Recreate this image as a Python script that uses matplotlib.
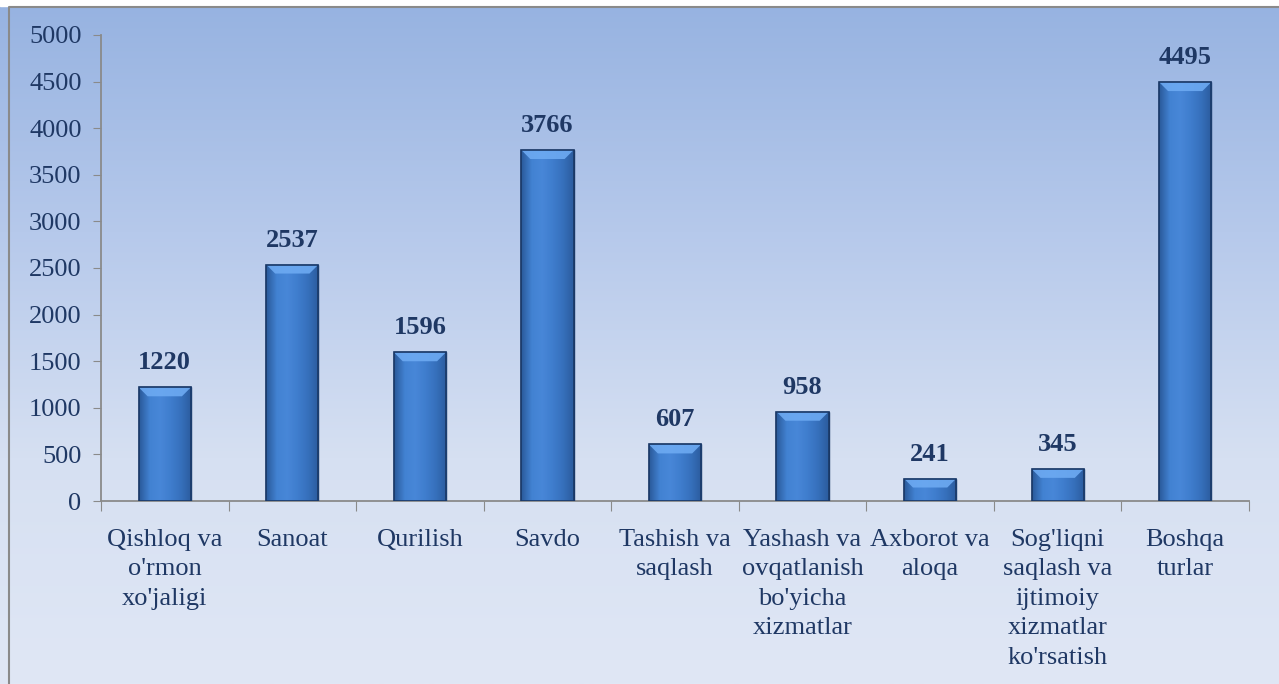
import numpy as np
import matplotlib
matplotlib.use("Agg")
import matplotlib.pyplot as plt
from matplotlib.patches import Polygon, Rectangle
from matplotlib.colors import LinearSegmentedColormap

# ma'lumotlar
categories = ["Qishloq va\no'rmon\nxo'jaligi", "Sanoat", "Qurilish", "Savdo",
              "Tashish va\nsaqlash", "Yashash va\novqatlanish\nbo'yicha\nxizmatlar",
              "Axborot va\naloqa", "Sog'liqni\nsaqlash va\nijtimoiy\nxizmatlar\nko'rsatish",
              "Boshqa\nturlar"]
values = [1220, 2537, 1596, 3766, 607, 958, 241, 345, 4495]
yticks = [0, 500, 1000, 1500, 2000, 2500, 3000, 3500, 4000, 4500, 5000]

navy = "#1F3864"
plt.rcParams["font.family"] = ["Liberation Serif", "DejaVu Serif"]

W, H = 1279, 684
fig = plt.figure(figsize=(W / 100, H / 100), dpi=100)

# fon
bg = fig.add_axes([0, 0, 1, 1], zorder=-5)
bg.set_xlim(0, W)
bg.set_ylim(H, 0)
bg.axis("off")
bgmap = LinearSegmentedColormap.from_list("bg", ["#97B3E1", "#B6C9EB", "#D6E0F2", "#E0E7F5"])
grad = np.linspace(0, 1, 256).reshape(-1, 1)
bg.imshow(grad, cmap=bgmap, extent=[0, W, H, 6], aspect="auto")
bg.add_patch(Rectangle((0, 0), W, 6, color="white"))
bg.plot([8.5, 8.5, W], [H, 6.5, 6.5], color="#8A8A8A", lw=1.5)

ax = fig.add_axes([101 / W, 1 - 501 / H, (1249 - 101) / W, (501 - 35) / H])
ax.patch.set_alpha(0)
x = np.arange(len(values))
bars = ax.bar(x, values, width=0.41, color="#3C78C8", edgecolor="#1A3866", linewidth=1.0, zorder=3)
ax.set_xlim(-0.5, len(values) - 0.5)
ax.set_ylim(0, 5000)

# gradient va qirralar
barmap = LinearSegmentedColormap.from_list("bar", ["#2A5A9A", "#4282D2", "#4887D8", "#3F7DCD", "#3670BC", "#2B5C9E"])
hgrad = np.linspace(0, 1, 64).reshape(1, -1)
ppy = 5000 / 466.0
ppx = 9 / 1148.0
for b in bars:
    x0, y0 = b.get_x(), b.get_y()
    w, h = b.get_width(), b.get_height()
    im = ax.imshow(hgrad, cmap=barmap, extent=[x0, x0 + w, y0, y0 + h], aspect="auto", zorder=3)
    im.set_clip_path(b)
    bev = min(9 * ppy, h * 0.4)
    dx = 9 * ppx
    ax.add_patch(Polygon([[x0, y0 + h], [x0 + w, y0 + h], [x0 + w - dx, y0 + h - bev], [x0 + dx, y0 + h - bev]],
                         closed=True, facecolor="#6DAAF2", edgecolor="none", alpha=0.9, zorder=4))
    ax.add_patch(Rectangle((x0, y0), w, h, facecolor="none", edgecolor="#1A3866", lw=1.2, zorder=5))
    ax.text(x0 + w / 2, y0 + h + 13 * ppy, str(int(h)), ha="center", va="bottom",
            fontsize=19, fontweight="bold", color=navy, zorder=6)

ax.set_xticks(np.arange(-0.5, len(values), 1))
ax.set_xticklabels([])
ax.set_xticks(x, minor=True)
ax.set_xticklabels(categories, minor=True, fontsize=19, color=navy, linespacing=1.44, va="top")
ax.tick_params(axis="x", which="major", length=7, color="#8A8A8A", direction="out")
ax.tick_params(axis="x", which="minor", length=0, pad=20)
ax.set_yticks(yticks)
ax.set_yticklabels([str(v) for v in yticks], fontsize=19, color=navy)
ax.tick_params(axis="y", length=6, color="#8A8A8A", pad=8)

for s in ["top", "right"]:
    ax.spines[s].set_visible(False)
for s in ["left", "bottom"]:
    ax.spines[s].set_color("#8A8A8A")
    ax.spines[s].set_linewidth(1.3)

fig.savefig("out.png", dpi=100)
